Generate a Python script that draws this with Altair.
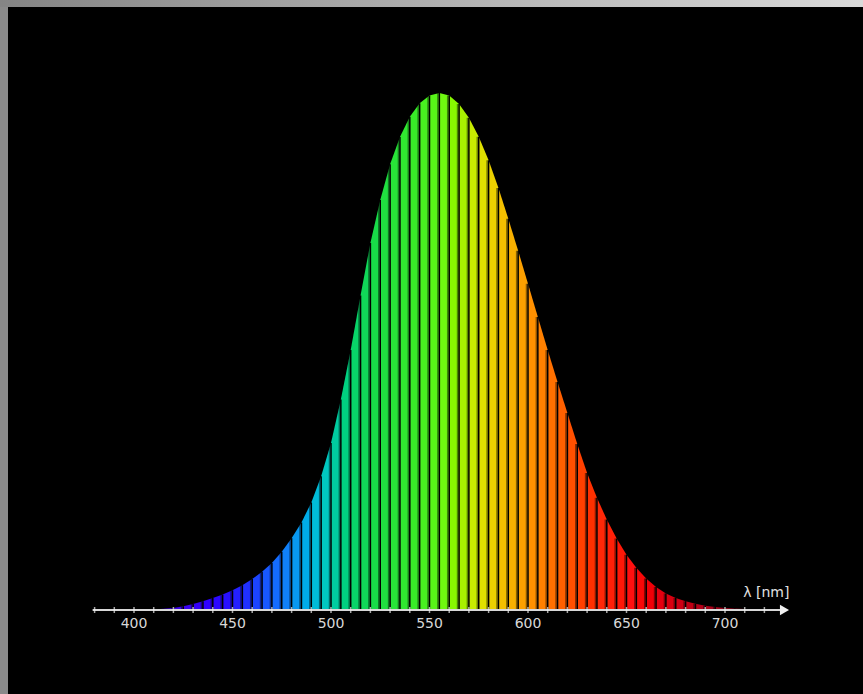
import altair as alt
import pandas as pd

# Sample grid (nm) and relative luminous efficiency
wavelengths = [380, 385, 390, 395, 400, 405, 410, 415, 420, 425, 430, 435, 440, 445,
               450, 455, 460, 465, 470, 475, 480, 485, 490, 495, 500, 505, 510, 515,
               520, 525, 530, 535, 540, 545, 550, 555, 560, 565, 570, 575, 580, 585,
               590, 595, 600, 605, 610, 615, 620, 625, 630, 635, 640, 645, 650, 655,
               660, 665, 670, 675, 680, 685, 690, 695, 700, 705, 710, 715, 720, 725, 730]
efficiency = [0.00004, 0.00006, 0.00012, 0.00022, 0.0004, 0.00064, 0.0012, 0.0022,
              0.004, 0.0073, 0.0116, 0.0168, 0.023, 0.0298, 0.038, 0.048, 0.060, 0.0739,
              0.091, 0.1126, 0.139, 0.1693, 0.208, 0.2586, 0.323, 0.4073, 0.503, 0.6082,
              0.710, 0.7932, 0.862, 0.9149, 0.954, 0.9803, 0.995, 1.000, 0.995, 0.9786,
              0.952, 0.9154, 0.870, 0.8163, 0.757, 0.6949, 0.631, 0.5668, 0.503, 0.4412,
              0.381, 0.321, 0.265, 0.217, 0.175, 0.1382, 0.107, 0.0816, 0.061, 0.0446,
              0.032, 0.0232, 0.017, 0.0119, 0.0082, 0.0057, 0.0041, 0.0029, 0.0021,
              0.0015, 0.0010, 0.0007, 0.0005]
band_colors = ["#4b0082", "#4b0090", "#4a00a0", "#4a00b0", "#4800c0", "#4600cc", "#4400d8",
               "#4000e0", "#3c00e8", "#3800f0", "#3400f8", "#3000ff", "#2c08ff", "#2810ff",
               "#2420ff", "#2030ff", "#1c44ff", "#1858ff", "#146cff", "#1080f8", "#0898f0",
               "#00ace8", "#00bcd8", "#00c8c0", "#00cca0", "#00d080", "#08d468", "#10d858",
               "#18dc48", "#20e040", "#28e438", "#30e830", "#38ec28", "#48f020", "#58f418",
               "#70f810", "#88f800", "#a8f000", "#c8ec00", "#e0e000", "#ecd000", "#f4c000",
               "#f8b000", "#fca000", "#ff9000", "#ff8000", "#ff7000", "#ff6000", "#ff5000",
               "#ff4000", "#ff3000", "#ff2808", "#ff2008", "#ff1808", "#ff1010", "#f80808",
               "#f00008", "#e40010", "#d80010", "#cc0014", "#c00014", "#b40018", "#a80018",
               "#9c0018", "#900018", "#840018", "#780018", "#6c0018", "#600018", "#540018"]
tick_values = [380, 390, 400, 410, 420, 430, 440, 450, 460, 470, 480, 490, 500, 510, 520,
               530, 540, 550, 560, 570, 580, 590, 600, 610, 620, 630, 640, 650, 660, 670,
               680, 690, 700, 710, 720]
label_values = [400, 450, 500, 550, 600, 650, 700]
axis_start, axis_end, arrow_at = 379, 729, 730.2
axis_title = "λ [nm]"

# tables built from the arrays
band_rows = []
for i in range(len(wavelengths) - 1):
    for j in (i, i + 1):
        band_rows.append({"band": i, "wl": wavelengths[j], "v": efficiency[j],
                          "color": band_colors[i]})
bands = pd.DataFrame(band_rows)
edges = pd.DataFrame({"wl": wavelengths[1:-1], "v": efficiency[1:-1]})
ticks = pd.DataFrame({"wl": tick_values})
labels = pd.DataFrame({"wl": label_values, "txt": [str(v) for v in label_values]})
axis_df = pd.DataFrame({"a": [axis_start], "b": [axis_end]})
arrow_df = pd.DataFrame({"wl": [arrow_at]})
title_df = pd.DataFrame({"wl": [arrow_at + 2.5], "txt": [axis_title]})

xs = alt.Scale(domain=[336.04, 770.05], range=[0, 855], nice=False, zero=False)
ys = alt.Scale(domain=[-0.16248, 1.16634], range=[687, 0], nice=False, zero=False)

top_strip = alt.Chart(pd.DataFrame({"k": [0]})).mark_rect(
    color=alt.LinearGradient(
        gradient="linear",
        stops=[alt.GradientStop(color="#858585", offset=0),
               alt.GradientStop(color="#dadada", offset=1)],
        x1=0, x2=1, y1=0, y2=0)
).encode(x=alt.value(-8), x2=alt.value(855), y=alt.value(-7), y2=alt.value(0))

area = alt.Chart(bands).mark_area(strokeWidth=0).encode(
    x=alt.X("wl:Q", scale=xs, axis=None),
    y=alt.Y("v:Q", scale=ys, axis=None, stack=None),
    y2=alt.datum(0),
    detail="band:N",
    color=alt.Color("color:N", scale=None),
)

shade = alt.Chart(edges).mark_rule(color="black", strokeWidth=1.5, opacity=0.45,
                                   xOffset=-1.5).encode(
    x=alt.X("wl:Q", scale=xs), y=alt.Y("v:Q", scale=ys), y2=alt.datum(0))
sep = alt.Chart(edges).mark_rule(color="black", strokeWidth=1.5).encode(
    x=alt.X("wl:Q", scale=xs), y=alt.Y("v:Q", scale=ys), y2=alt.datum(0))

axis_line = alt.Chart(axis_df).mark_rule(color="#d8d8d8", strokeWidth=2).encode(
    x=alt.X("a:Q", scale=xs), x2="b:Q", y=alt.datum(0, scale=ys))

tick_marks = alt.Chart(ticks).mark_tick(color="#f0f0f0", orient="vertical",
                                        thickness=1.5, size=6).encode(
    x=alt.X("wl:Q", scale=xs), y=alt.datum(0, scale=ys))

arrow = alt.Chart(arrow_df).mark_point(shape="triangle-right", filled=True,
                                       color="#f0f0f0", size=110, opacity=1).encode(
    x=alt.X("wl:Q", scale=xs), y=alt.datum(0, scale=ys))

label_text = alt.Chart(labels).mark_text(color="#d8d8d8", font="DejaVu Sans",
                                         fontSize=14, dy=14, baseline="middle").encode(
    x=alt.X("wl:Q", scale=xs), y=alt.datum(0, scale=ys), text="txt:N")

title_text = alt.Chart(title_df).mark_text(color="#e0e0e0", font="DejaVu Sans",
                                           fontSize=14, dy=-17, align="right",
                                           baseline="middle").encode(
    x=alt.X("wl:Q", scale=xs), y=alt.datum(0, scale=ys), text="txt:N")

chart = alt.layer(top_strip, area, shade, sep, axis_line, tick_marks, arrow,
                  label_text, title_text).properties(
    width=855, height=687,
    autosize=alt.AutoSizeParams(type="none"),
    padding={"left": 8, "top": 7, "right": 0, "bottom": 0},
    background="#8a8a8a",
).configure_view(fill="black", stroke=None)

chart.save("out.html", embed_options={"renderer": "svg", "actions": False})
